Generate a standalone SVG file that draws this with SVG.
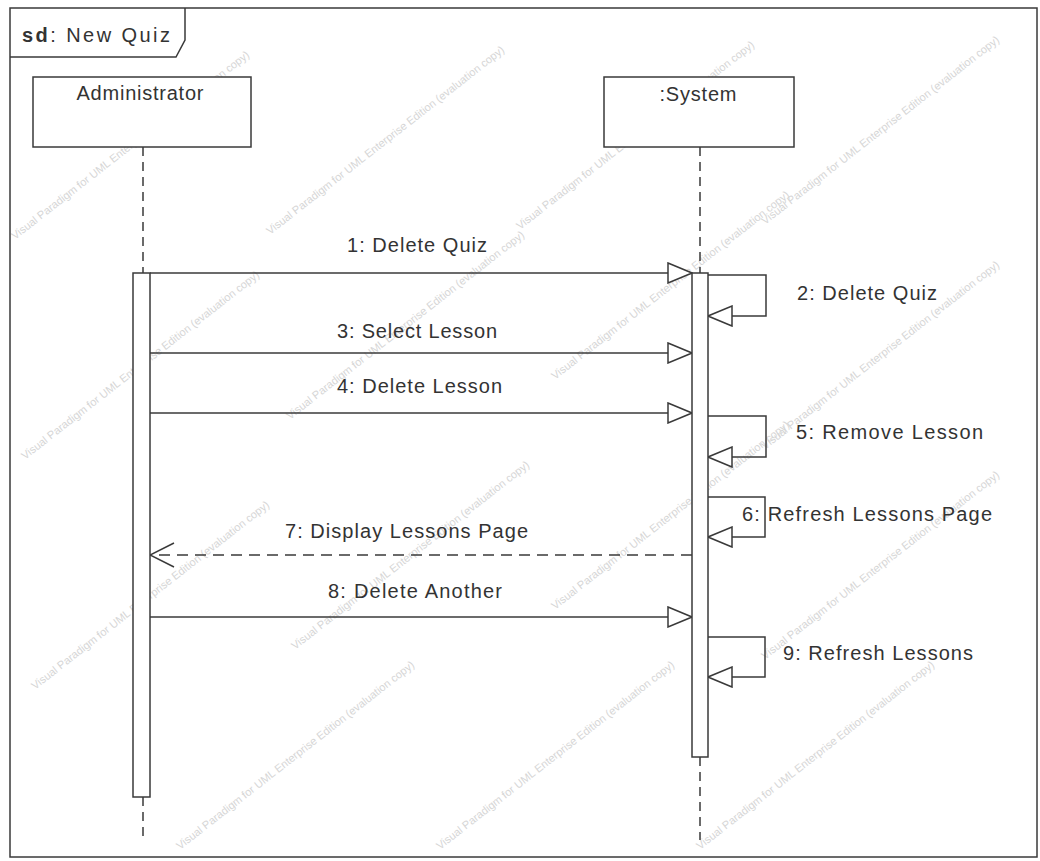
<svg xmlns="http://www.w3.org/2000/svg" width="1040" height="861" viewBox="0 0 1040 861">
<style>
.ln{stroke:#3a3a3a;stroke-width:1.5;fill:none}
.box{stroke:#3a3a3a;stroke-width:1.5;fill:#fff}
.life{stroke:#3a3a3a;stroke-width:1.5;stroke-dasharray:9 6;fill:none}
.ret{stroke:#3a3a3a;stroke-width:1.5;stroke-dasharray:11 7;fill:none}
.t{font-family:"Liberation Sans",Arial,sans-serif;font-size:20px;fill:#333}
.wm{font-family:"Liberation Sans",Arial,sans-serif;font-size:11px;fill:#d6d6d6}
</style>
<defs>
<marker id="sync" viewBox="0 0 26 22" refX="25" refY="11" markerWidth="26" markerHeight="22" markerUnits="userSpaceOnUse" orient="auto">
<path d="M1,1 L25,11 L1,21 Z" fill="#fff" stroke="#3a3a3a" stroke-width="1.5"/>
</marker>
<marker id="open" viewBox="0 0 26 26" refX="25" refY="13" markerWidth="26" markerHeight="26" markerUnits="userSpaceOnUse" orient="auto">
<path d="M1,1 L25,13 L1,25" fill="none" stroke="#3a3a3a" stroke-width="1.5"/>
</marker>
</defs>
<rect width="1040" height="861" fill="#fff"/>
<g id="watermark" class="wm">
<text transform="translate(15,240) rotate(-38)">Visual Paradigm for UML Enterprise Edition (evaluation copy)</text>
<text transform="translate(270,235) rotate(-38)">Visual Paradigm for UML Enterprise Edition (evaluation copy)</text>
<text transform="translate(520,230) rotate(-38)">Visual Paradigm for UML Enterprise Edition (evaluation copy)</text>
<text transform="translate(765,225) rotate(-38)">Visual Paradigm for UML Enterprise Edition (evaluation copy)</text>
<text transform="translate(25,460) rotate(-38)">Visual Paradigm for UML Enterprise Edition (evaluation copy)</text>
<text transform="translate(290,420) rotate(-38)">Visual Paradigm for UML Enterprise Edition (evaluation copy)</text>
<text transform="translate(555,380) rotate(-38)">Visual Paradigm for UML Enterprise Edition (evaluation copy)</text>
<text transform="translate(765,450) rotate(-38)">Visual Paradigm for UML Enterprise Edition (evaluation copy)</text>
<text transform="translate(35,690) rotate(-38)">Visual Paradigm for UML Enterprise Edition (evaluation copy)</text>
<text transform="translate(295,650) rotate(-38)">Visual Paradigm for UML Enterprise Edition (evaluation copy)</text>
<text transform="translate(555,610) rotate(-38)">Visual Paradigm for UML Enterprise Edition (evaluation copy)</text>
<text transform="translate(765,660) rotate(-38)">Visual Paradigm for UML Enterprise Edition (evaluation copy)</text>
<text transform="translate(180,850) rotate(-38)">Visual Paradigm for UML Enterprise Edition (evaluation copy)</text>
<text transform="translate(440,850) rotate(-38)">Visual Paradigm for UML Enterprise Edition (evaluation copy)</text>
<text transform="translate(700,850) rotate(-38)">Visual Paradigm for UML Enterprise Edition (evaluation copy)</text>
</g>
<g id="frame">
<rect x="10" y="8" width="1027" height="849" class="ln"/>
<path d="M10,57 H176 L185,40 V8" class="ln"/>
<text x="22" y="42" class="t" textLength="148" lengthAdjust="spacing"><tspan font-weight="bold">sd</tspan>: New Quiz</text>
</g>
<g id="connectors">
<line x1="143" y1="147" x2="143" y2="273" class="life"/>
<line x1="143" y1="797" x2="143" y2="840" class="life"/>
<line x1="700" y1="147" x2="700" y2="273" class="life"/>
<line x1="700" y1="757" x2="700" y2="840" class="life"/>
<line x1="150" y1="273" x2="692" y2="273" class="ln" marker-end="url(#sync)"/>
<path d="M708,275 H766 V316 H708" class="ln" marker-end="url(#sync)"/>
<line x1="150" y1="353" x2="692" y2="353" class="ln" marker-end="url(#sync)"/>
<line x1="150" y1="413" x2="692" y2="413" class="ln" marker-end="url(#sync)"/>
<path d="M708,416 H766 V457 H708" class="ln" marker-end="url(#sync)"/>
<path d="M708,497 H765 V537 H708" class="ln" marker-end="url(#sync)"/>
<line x1="692" y1="555" x2="150" y2="555" class="ret" marker-end="url(#open)"/>
<line x1="150" y1="617" x2="692" y2="617" class="ln" marker-end="url(#sync)"/>
<path d="M708,637 H765 V677 H708" class="ln" marker-end="url(#sync)"/>
</g>
<g id="admin">
<rect x="33" y="77" width="218" height="70" class="box"/>
<text x="140" y="100" class="t" text-anchor="middle" textLength="127" lengthAdjust="spacing">Administrator</text>
<rect x="133" y="273" width="17" height="524" class="box"/>
</g>
<g id="system">
<rect x="604" y="77" width="190" height="70" class="box"/>
<text x="698" y="101" class="t" text-anchor="middle" textLength="77" lengthAdjust="spacing">:System</text>
<rect x="692" y="273" width="16" height="484" class="box"/>
</g>
<g id="labels" class="t">
<text x="347" y="252" textLength="140" lengthAdjust="spacing">1: Delete Quiz</text>
<text x="797" y="300" textLength="140" lengthAdjust="spacing">2: Delete Quiz</text>
<text x="337" y="338" textLength="160" lengthAdjust="spacing">3: Select Lesson</text>
<text x="337" y="393" textLength="165" lengthAdjust="spacing">4: Delete Lesson</text>
<text x="796" y="439" textLength="187" lengthAdjust="spacing">5: Remove Lesson</text>
<text x="742" y="521" textLength="250" lengthAdjust="spacing">6: Refresh Lessons Page</text>
<text x="285" y="538" textLength="243" lengthAdjust="spacing">7: Display Lessons Page</text>
<text x="328" y="598" textLength="174" lengthAdjust="spacing">8: Delete Another</text>
<text x="783" y="660" textLength="190" lengthAdjust="spacing">9: Refresh Lessons</text>
</g>
</svg>
